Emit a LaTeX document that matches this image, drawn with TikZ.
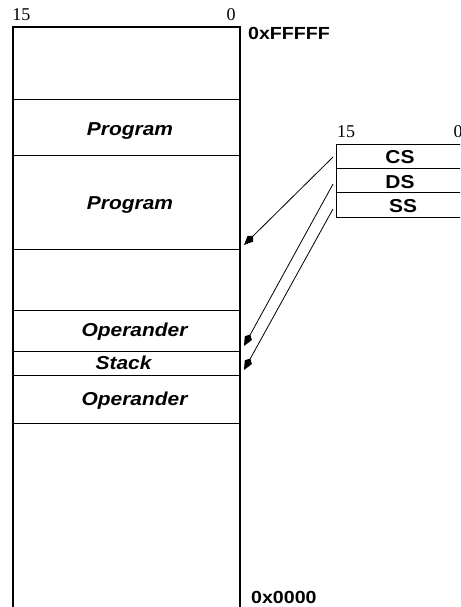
\documentclass[tikz,border=0pt]{standalone}
\usepackage{fontspec}
\setmainfont{Liberation Serif}
\newfontfamily\labelfont[FakeStretch=1.12]{Liberation Sans}
\usetikzlibrary{arrows.meta}
\begin{document}
\begin{tikzpicture}[x=1pt,y=-1pt,
  frame/.style={line width=2pt},
  divider/.style={line width=1pt},
  reg/.style={line width=1pt},
  seg/.style={font=\labelfont\bfseries\itshape\fontsize{18.7}{20}\selectfont, anchor=base, inner sep=0pt},
  regname/.style={font=\labelfont\bfseries\fontsize{18.7}{20}\selectfont, anchor=base, inner sep=0pt},
  addr/.style={font=\labelfont\bfseries\fontsize{17.5}{19}\selectfont, anchor=base west, inner sep=0pt},
  bit/.style={font=\fontsize{18}{20}\selectfont, anchor=base, inner sep=0pt},
  ptr/.style={line width=0.8pt, -{Kite[length=13pt,width=8pt,inset=4pt]}}]
\useasboundingbox (0,0) rectangle (460,607);
\begin{scope}
  \clip (0,0) rectangle (460,607);
  % memory column and its segment boundaries
  \foreach \y in {99.5,155.5,249.5,310,351,375,423}
    \draw[divider] (13,\y) -- (240,\y);
  \draw[frame] (13,640) -- (13,27) -- (240,27) -- (240,640);
  % segment register file
  \draw[reg] (480,144) -- (336,144) -- (336,217) -- (480,217);
  \draw[reg] (336,168.5) -- (480,168.5);
  \draw[reg] (336,192.5) -- (480,192.5);
  \node[bit] (rhi) at (346,137) {15};
  \node[bit] (rlo) at (458,137) {0};
\end{scope}

% bit numbers and address bounds of the memory column
\node[bit] (mhi) at (21.5,20.7) {15};
\node[bit] (mlo) at (231,20.7) {0};
\node[addr] (top) at (248,39.5) {0xFFFFF};
\node[addr] (bottom) at (251,603.5) {0x0000};

% segment contents
\node[seg] (prog1) at (130,135.7) {Program};
\node[seg] (prog2) at (130,209) {Program};
\node[seg] (oper1) at (134.5,336) {Operander};
\node[seg] (stack) at (123.5,369.3) {Stack};
\node[seg] (oper2) at (134.5,405) {Operander};

% register names
\node[regname] (cs) at (400,163.3) {CS};
\node[regname] (ds) at (400,188.3) {DS};
\node[regname] (ss) at (403,212) {SS};

% pointer ends
\coordinate (cs-out) at (333,157);
\coordinate (ds-out) at (333,184);
\coordinate (ss-out) at (333,209);
\coordinate (cs-in) at (244,245);
\coordinate (ds-in) at (244,346);
\coordinate (ss-in) at (244,370);

\draw[ptr] (cs-out) -- (cs-in);
\draw[ptr] (ds-out) -- (ds-in);
\draw[ptr] (ss-out) -- (ss-in);
\end{tikzpicture}
\end{document}
